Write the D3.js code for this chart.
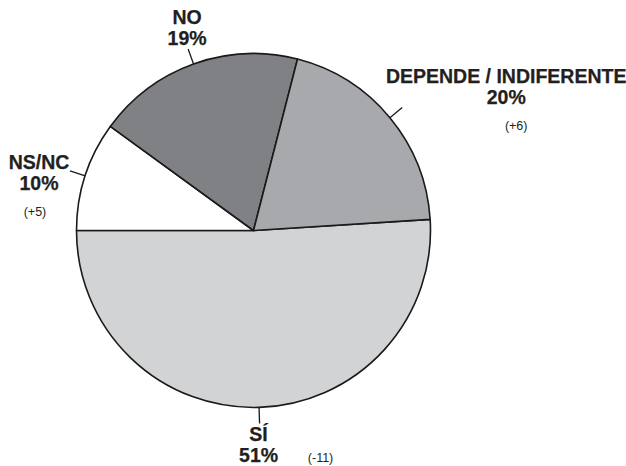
<!DOCTYPE html>
<html>
<head>
<meta charset="utf-8">
<script src="https://cdn.jsdelivr.net/npm/d3@7"></script>
<style>
  body { margin: 0; background: #fff; }
  svg { display: block; }
  .lbl { font-family: "Liberation Sans", Arial, Helvetica, sans-serif; font-weight: bold; font-size: 19.5px; fill: #231f20; stroke: #231f20; stroke-width: 0.25px; }
  .chg { font-family: "Liberation Sans", Arial, Helvetica, sans-serif; font-size: 12.5px; fill: #231f20; }
</style>
</head>
<body>
<div id="main"></div>
<script>
// data, in drawing order (clockwise from the right side)
var categories = ['SÍ', 'NS/NC', 'NO', 'DEPENDE / INDIFERENTE'];
var values = [51, 10, 19, 20];
var changes = ['(-11)', '(+5)', '', '(+6)'];
var colors = ['#d1d3d4', '#ffffff', '#808184', '#a7a9ac'];

var width = 626, height = 466;
var cx = 253.5, cy = 230.5, radius = 177, tick = 16;

// label offsets relative to the end of each leader tick
var layout = [
  { dx: -1, dy: [18, 39], cdx: 61, cdy: 39 },
  { dx: -31, dy: [-2, 19], cdx: -35, cdy: 45 },
  { dx: -1, dy: [-25, -4] },
  { dx: 104, dy: [-24, -3], cdx: 114, cdy: 23 }
];

var svg = d3.select('#main').append('svg')
    .attr('width', width)
    .attr('height', height);

var g = svg.append('g').attr('transform', 'translate(' + cx + ',' + cy + ')');

var start = 86.4 * Math.PI / 180;
var pie = d3.pie().sort(null)
    .startAngle(start)
    .endAngle(start + 2 * Math.PI);

var arcs = pie(values);
var arc = d3.arc().innerRadius(0).outerRadius(radius);

g.selectAll('path.slice').data(arcs)
  .enter().append('path')
    .attr('class', 'slice')
    .attr('d', arc)
    .attr('fill', function(d, i) { return colors[i]; })
    .attr('stroke', '#1a1a1a')
    .attr('stroke-width', 1.6)
    .attr('stroke-linejoin', 'round');

function pt(a, r) { return [Math.sin(a) * r, -Math.cos(a) * r]; }

arcs.forEach(function(d, i) {
  var mid = (d.startAngle + d.endAngle) / 2;
  var p0 = pt(mid, radius), p1 = pt(mid, radius + tick);
  g.append('line')
      .attr('x1', p0[0]).attr('y1', p0[1])
      .attr('x2', p1[0]).attr('y2', p1[1])
      .attr('stroke', '#1a1a1a')
      .attr('stroke-width', 1.3);

  var L = layout[i];
  var lines = [categories[i], values[i] + '%'];
  lines.forEach(function(t, j) {
    g.append('text')
        .attr('class', 'lbl')
        .attr('x', p1[0] + L.dx)
        .attr('y', p1[1] + L.dy[j])
        .attr('text-anchor', 'middle')
        .text(t);
  });
  if (changes[i]) {
    g.append('text')
        .attr('class', 'chg')
        .attr('x', p1[0] + L.cdx)
        .attr('y', p1[1] + L.cdy)
        .attr('text-anchor', 'middle')
        .text(changes[i]);
  }
});
</script>
</body>
</html>
